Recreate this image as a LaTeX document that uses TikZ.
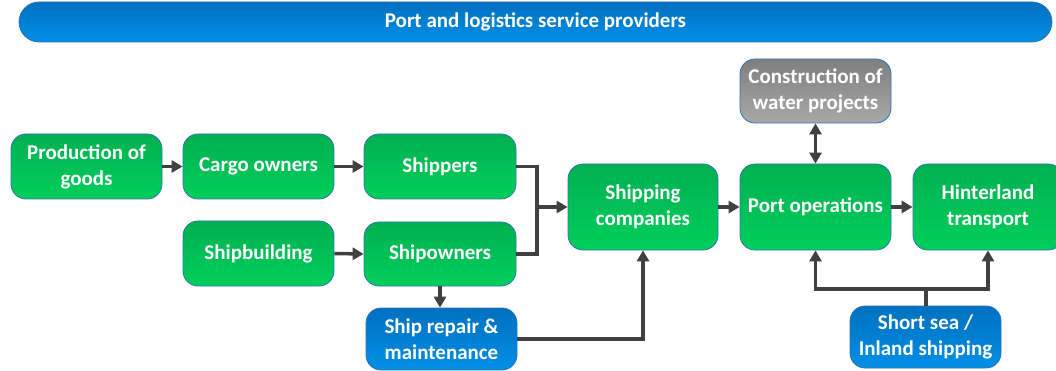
\documentclass[tikz,border=0pt]{standalone}
\usepackage{fontspec}
\setmainfont{Carlito}
\usetikzlibrary{arrows.meta,calc}
\definecolor{gtop}{HTML}{00B050}
\definecolor{gbot}{HTML}{00CF5C}
\definecolor{btop}{HTML}{0070C0}
\definecolor{bbot}{HTML}{008FE6}
\definecolor{ytop}{HTML}{7F7F7F}
\definecolor{ybot}{HTML}{A8A8A8}
\definecolor{edge}{HTML}{2E75B6}
\definecolor{arr}{HTML}{404040}
\begin{document}
\begin{tikzpicture}[x=1pt,y=-1pt,
  >={Triangle[length=11pt,width=12pt]},
  box/.style={draw=edge, line width=0.8pt, rounded corners=15pt, inner sep=0pt,
    align=center, text=white, font=\fontsize{21}{26}\selectfont\bfseries},
  greenbox/.style={box, top color=gtop, bottom color=gbot},
  bluebox/.style={box, top color=btop, bottom color=bbot},
  graybox/.style={box, top color=ytop, bottom color=ybot},
  conn/.style={draw=arr, line width=3.5pt, ->},
  plain/.style={draw=arr, line width=3.5pt}
]
\useasboundingbox (0,0) rectangle (1056,371);
% header
\node[box, rounded corners=20pt, top color=btop, bottom color=bbot,
  minimum width=1033pt, minimum height=40pt, font=\fontsize{21}{24}\selectfont\bfseries]
  (hdr) at (535.5,22) {Port and logistics service providers};
% nodes
\node[greenbox, minimum width=151pt, minimum height=65pt] (prod) at (86.5,166.5) {Production of\\goods};
\node[greenbox, minimum width=151pt, minimum height=65pt] (cargo) at (258.5,166.5) {Cargo owners};
\node[greenbox, minimum width=151pt, minimum height=65pt] (build) at (258.5,253.5) {Shipbuilding};
\node[greenbox, minimum width=152pt, minimum height=65pt] (shippers) at (440,166.5) {Shippers};
\node[greenbox, minimum width=152pt, minimum height=64pt] (owners) at (440,254) {Shipowners};
\node[bluebox, minimum width=151pt, minimum height=62pt] (repair) at (441.5,339) {Ship repair \&\\maintenance};
\node[greenbox, minimum width=150pt, minimum height=86pt] (shipco) at (643,207) {Shipping\\companies};
\node[graybox, minimum width=151pt, minimum height=64pt] (constr) at (815.5,91) {Construction of\\water projects};
\node[greenbox, minimum width=151pt, minimum height=86pt] (port) at (815.5,207) {Port operations};
\node[greenbox, minimum width=150pt, minimum height=86pt] (hint) at (988,207) {Hinterland\\transport};
\node[bluebox, minimum width=151pt, minimum height=62pt] (short) at (925.5,337) {Short sea /\\Inland shipping};
% connectors
\coordinate (j1) at (537,207);
\coordinate (j2) at (926,289);
\draw[conn] (prod.east) -- (cargo.west);
\draw[conn] (cargo.east) -- (shippers.west);
\draw[conn] (build.east) -- (owners.west);
\draw[plain] (shippers.east) -| (j1);
\draw[plain] (owners.east) -| (j1);
\draw[conn] (j1) -- (shipco.west);
\draw[conn] (owners.south) -- (repair.north -| owners.south);
\draw[conn] (repair.east) -| (shipco.south);
\draw[conn] (shipco.east) -- (port.west);
\draw[conn] (port.east) -- (hint.west);
\draw[draw=arr, line width=3.5pt, <->] (constr.south) -- (port.north);
\draw[plain] (short.north -| j2) -- (j2);
\draw[conn] (j2) -| (port.south);
\draw[conn] (j2) -| (hint.south);
\end{tikzpicture}
\end{document}
